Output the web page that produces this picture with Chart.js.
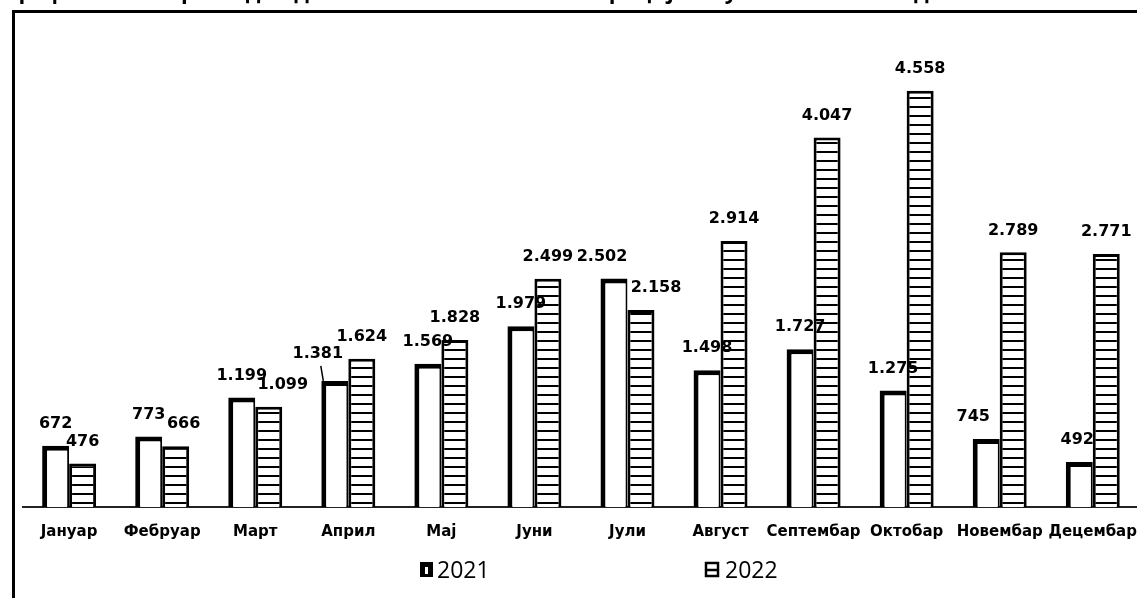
<!DOCTYPE html>
<html><head><meta charset="utf-8">
<script src="https://cdn.jsdelivr.net/npm/chart.js@4"></script>
<style>
html,body{margin:0;padding:0;background:#fff;overflow:hidden}
#wrap{position:relative;width:1137px;height:598px;overflow:hidden}
#c{position:absolute;left:0;top:0}
#frame{position:absolute;left:12px;top:10px;width:1200px;height:700px;border-left:3px solid #000;border-top:3px solid #000;pointer-events:none}
#title{position:absolute;left:6px;top:-25px;font:bold 17px "Open Sans";white-space:nowrap;color:#000}
</style></head>
<body><div id="wrap"><canvas id="c" width="1153" height="598"></canvas><div id="frame"></div><div id="title">Графикон 21. Преглед података о незаконитим миграцијама у 2021. и 2022. години</div></div>
<script>
const categories = ['Јануар','Фебруар','Март','Април','Мај','Јуни','Јули','Август','Септембар','Октобар','Новембар','Децембар'];
const values2021 = [672,773,1199,1381,1569,1979,2502,1498,1727,1275,745,492];
const values2022 = [476,666,1099,1624,1828,2499,2158,2914,4047,4558,2789,2771];
const seriesLabels = ['2021','2022'];

// fit title width
(function(){const t=document.getElementById('title');const w=t.getBoundingClientRect().width;const target=970;t.style.fontSize=(17*target/w)+'px';})();

const canvas=document.getElementById('c');
const ctx0=canvas.getContext('2d');
function stripes(){const p=document.createElement('canvas');p.width=8;p.height=9;const g=p.getContext('2d');g.fillStyle='#fff';g.fillRect(0,0,8,9);g.fillStyle='#000';g.fillRect(0,7,8,2);return ctx0.createPattern(p,'repeat');}
function fmt(n){return String(n).replace(/\B(?=(\d{3})+(?!\d))/g,'.');}

// label nudges (dx, dy) for labels that were moved to avoid overlaps
const labelNudges=[{3:[-17,-5],6:[-12,0],10:[-13,0],11:[-2,0]},{1:[8,0],2:[14,0],6:[15,0]}];
const labelLeaders=[[3],[]];

const labelPlugin={id:'valueLabels',afterDatasetsDraw(chart){
  const ctx=chart.ctx;ctx.save();ctx.font='bold 16px "DejaVu Sans"';ctx.textAlign='center';ctx.textBaseline='middle';ctx.fillStyle='#000';
  chart.data.datasets.forEach((ds,di)=>{const meta=chart.getDatasetMeta(di);meta.data.forEach((bar,i)=>{
    const off=labelNudges[di][i]||[0,0];const x=bar.x+off[0],y=bar.y-22+off[1];
    ctx.fillStyle='#000';ctx.fillText(fmt(ds.data[i]),x,y);
    if(labelLeaders[di].includes(i)){ctx.strokeStyle='#000';ctx.lineWidth=1.5;ctx.beginPath();ctx.moveTo(x+3,y+12);ctx.lineTo(bar.x-bar.width/2+2,bar.y);ctx.stroke();}
  });});
  ctx.restore();}};

const legendPlugin={id:'customLegend',afterDraw(chart){
  const ctx=chart.ctx;ctx.save();const y=570;
  ctx.font='23px "Open Sans"';ctx.textBaseline='middle';ctx.fillStyle='#000';ctx.textAlign='left';
  let x=420;ctx.fillRect(x,y-8,13,15);ctx.fillStyle='#fff';ctx.fillRect(x+5,y-3,3,7);
  ctx.fillStyle='#000';ctx.fillText(seriesLabels[0],x+17,y+1);
  x=705;ctx.strokeStyle='#000';ctx.lineWidth=2.5;ctx.strokeRect(x+1,y-7,12,13);ctx.beginPath();ctx.moveTo(x+1,y);ctx.lineTo(x+13,y);ctx.stroke();
  ctx.fillText(seriesLabels[1],x+20,y+1);
  ctx.restore();}};

new Chart(canvas,{type:'bar',
  data:{labels:categories,datasets:[
    {label:seriesLabels[0],data:values2021,backgroundColor:'#fff',borderColor:'#000',borderWidth:{top:5,left:5,right:2,bottom:0},borderSkipped:'bottom',categoryPercentage:0.58,barPercentage:1.0},
    {label:seriesLabels[1],data:values2022,backgroundColor:stripes(),borderColor:'#000',borderWidth:{top:3,left:3,right:3,bottom:0},borderSkipped:'bottom',categoryPercentage:0.58,barPercentage:1.0}
  ]},
  options:{responsive:false,animation:false,
    layout:{padding:{left:22.6,right:0.6,top:50.5,bottom:41}},
    plugins:{legend:{display:false},tooltip:{enabled:false}},
    scales:{
      x:{offset:true,grid:{display:false,drawTicks:false},border:{display:true,color:'#222',width:2},
         ticks:{color:'#000',font:{family:'DejaVu Sans',weight:'bold',size:15},padding:16,maxRotation:0,autoSkip:false}},
      y:{display:false,min:0,max:5000}
    }},
  plugins:[labelPlugin,legendPlugin]
});
</script>
</body></html>
